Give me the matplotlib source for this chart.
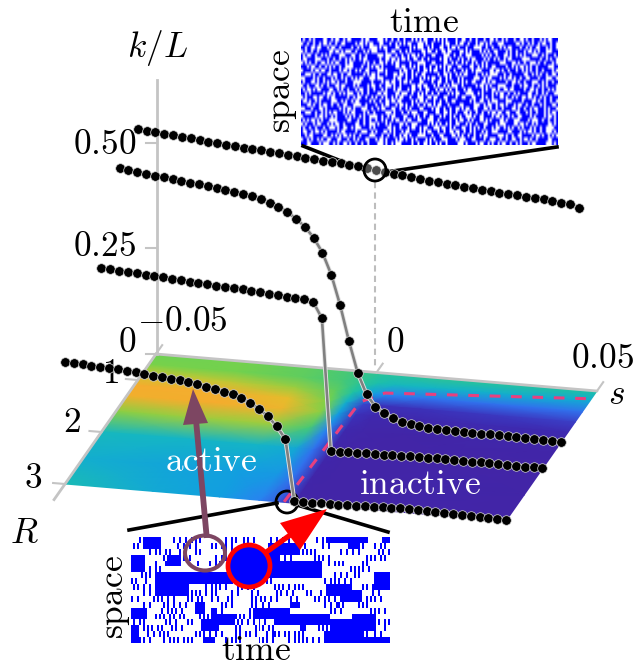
import numpy as np
import matplotlib
matplotlib.use('Agg')
import matplotlib.pyplot as plt
from matplotlib.colors import LinearSegmentedColormap
from matplotlib.patches import Ellipse

plt.rcParams['mathtext.fontset'] = 'cm'

# k/L against s, one list per R (s runs -0.05 .. 0.05 in 51 steps)
k_R1 = [.5930, .5911, .5892, .5872, .5853, .5834, .5815, .5796, .5777, .5757, .5738, .5723, .5706,
        .5690, .5673, .5656, .5640, .5623, .5606, .5589, .5573, .5556, .5539, .5522, .5505, .5488,
        .5460, .5435, .5410, .5385, .5360, .5330, .5303, .5285, .5267, .5250, .5232, .5215, .5198,
        .5180, .5163, .5146, .5130, .5116, .5103, .5088, .5073, .5058, .5032, .5010, .4950]
k_R15 = [.5626, .5597, .5567, .5544, .5519, .5494, .5471, .5442, .5419, .5399, .5376, .5346, .5316,
         .5294, .5264, .5220, .5166, .5103, .5027, .4919, .4778, .4606, .4364, .4026, .3524, .2825,
         .1991, .1252, .0766, .0491, .0352, .0252, .0174, .0145, .0122, .0099, .0086, .0082, .0078,
         .0075, .0071, .0067, .0063, .0060, .0056, .0052, .0048, .0044, .0040, .0036, .0031]
k_R2 = [.3877, .3862, .3848, .3833, .3819, .3804, .3790, .3775, .3761, .3746, .3732, .3717, .3703,
        .3688, .3674, .3660, .3653, .3631, .3618, .3602, .3582, .3559, .3553, .3540, .3500, .3125,
        .0006, .0010, .0014, .0018, .0021, .0024, .0027, .0030, .0033, .0036, .0038, .0041, .0043,
        .0042, .0040, .0038, .0036, .0034, .0032, .0030, .0028, .0026, .0024, .0022, .0020]
k_R3 = [.2891, .2871, .2865, .2842, .2829, .2823, .2817, .2794, .2781, .2758, .2735, .2722, .2699,
        .2679, .2656, .2626, .2580, .2543, .2497, .2453, .2376, .2282, .2158, .2003, .1784, .1494,
        .0046, .0040, .0042, .0047, .0052, .0056, .0060, .0064, .0068, .0072, .0078, .0084, .0088,
        .0085, .0080, .0075, .0068, .0062, .0055, .0048, .0042, .0036, .0030, .0024, .0017]

# colour field on the floor
floor_s = [-.05, -.03, -.015, -.006, -.002, .002, .006, .015, .03, .05]
floor_R = [.5, .7, .9, 1.1, 1.3, 1.6, 2, 2.5, 3]
floor_v = [[.74, .75, .72, .68, .64, .60, .60, .62, .60, .58],
           [.76, .75, .72, .68, .62, .56, .52, .50, .48, .46],
           [.86, .84, .80, .72, .58, .42, .34, .30, .30, .30],
           [.98, .97, .90, .76, .48, .20, .14, .14, .16, .18],
           [.96, .98, .94, .78, .42, .14, .08, .08, .10, .10],
           [.78, .80, .80, .68, .34, .08, .06, .05, .06, .06],
           [.52, .50, .50, .46, .30, .07, .05, .05, .05, .05],
           [.48, .44, .42, .40, .30, .06, .05, .05, .06, .05],
           [.54, .46, .42, .34, .26, .06, .05, .05, .05, .05]]

# phase boundary
edge_s = [-.0004, .0009, .0049, .05]
edge_R = [2.99, 1.06, .86, .65]

k_ticks = [0, .25, .5]
R_ticks = [1, 2, 3]
s_ticks = [-.05, 0, .05]

# raster snapshots, one hex digit = 4 sites
top_raster = ['b5e69a7d3c5b6ea9d57b36ecb5d96ea7', '6da5b3e94e76a9c5bd3a6e95c7e5ad36',
              'd93a6fb5c29e7d46b9a5dc36ea7b59d6', '5b7c946ea3d9b5f26c9e57ab3d6e95c7',
              'a6d5e39b7c46da5b9e36c7d5b96ae35d', '9e3b6d5a7ec94b36fa5d69eb5a7c3ed6',
              '56ca9d3eb65a7dc39e6b5ad7e396c5ba', 'e9b56c3da97e4d5b6a9cf3567da95be3',
              '7a4de96b3c5fa6d94eb75a3c96ed5b7a', 'c5b9367ea5dc96b3f65a9ed43b7e6ad9',
              '3d6eb5a9c47d36ea9b5d7c69ea5b3dc6', 'b96a5dc3ef49a5e7b36d59ca7d96e35b',
              '6e5b93d7a6c5be49d6a37e95c3ba6d5e', 'a53cd6e9b75d3a6ce95ba7d6593ecb6a',
              'd7e96a35bc9e46d5b7a9c35ea6d79b5c', '5c9a7ed36b5a9dc64e7b39d6e5ac96b7',
              '96be35a7d6c93ea5db67f59a3c7de5b6', 'e5a6d9c37b4e96da53be7c69a5d36eb9',
              '3b97ea5c6d39b5e7a6d94ce5b796d3ae', 'c6d53a9eb7c5da39e65b96da4ce75ba9',
              '7e96bd5ac369e75b3ad6c59e96b3d7a5', 'a95c3e76db5a69ce37da6b95e5c7a36d',
              '5d3a9be6c5d7963eab59d6e7a3c96be5', 'b6ec59a3d7e5ba69c4d7356e9ab5d6c3',
              '9a57d3ec6b95d3ea76c9b5d63e7a96c5', 'd3e6a95bc76da5c3b9e56da7c5b3e96a',
              '6b59ced73a5e96bd5c7a39ec6d9a5be7', 'e7a3596dbc5a3ed96b7c5e9ad36ba7c5']
bottom_noise = ['0a000492a00128a40249000492010a000',
                '52a0012480a52090050a41009004a8252',
                '004a5090a0012a00040012a80049200a4',
                '0000a1240025090000a4800a900002a50',
                '00085200412800000000000412a00a000',
                '024a000000000000000000000002a9000',
                '054a800000000000000000000248a0000',
                'a10000000000a4a52a0000004a9200000',
                '5240000004a9052400a92a0000000a500',
                '024a8052a4a02409005240a1200000480',
                '9015240a5090a00a5240900a520002a40',
                '0240a490a005200a2400000049a02a000',
                '00012a4000a40010000000000a4000a90',
                '000a94a02a000a9240000000000000a00',
                '4a00520a0000052490a00000000000094',
                '02a50a4000000a02a5000002a00000a10',
                '0092a000a9240a5209a52a0000000a240',
                '0a40952a00012a00a9012a92000000000']
# solid stretches in the lower raster: row from, row to, site from, site to
bottom_blocks = [(0, 2, 7, 15), (0, 1, 98, 118), (1, 2, 110, 114), (0, 1, 126, 130), (3, 6, 0, 7),
                 (3, 5, 18, 25), (6, 10, 12, 29), (6, 7, 25, 70), (7, 8, 29, 50), (1, 3, 70, 85),
                 (3, 4, 68, 74), (4, 7, 68, 96), (6, 9, 122, 130), (8, 10, 98, 111), (9, 11, 105, 116),
                 (12, 14, 61, 80), (11, 12, 80, 85), (13, 15, 73, 100), (15, 16, 85, 88),
                 (14, 16, 100, 123), (13, 14, 111, 123), (16, 18, 97, 117), (17, 18, 117, 130),
                 (12, 14, 0, 8), (11, 13, 32, 37), (12, 13, 40, 43), (13, 15, 40, 52), (14, 16, 35, 44),
                 (15, 18, 0, 4), (17, 18, 36, 42)]


def project(s, R, k=0):
    s = np.asarray(s, dtype=float)
    R = np.asarray(R, dtype=float)
    k = np.asarray(k, dtype=float)
    x = 156 + 4410 * (s + .05) - 36.4 * (R - .5)
    y = 354 + 370 * (s + .05) + 52 * (R - .5) - 423 * k
    return x, y


def hex_to_bits(rows):
    return np.array([[int(b) for c in row for b in format(int(c, 16), '04b')] for row in rows])


fig = plt.figure(figsize=(6.44, 6.68), dpi=100)
ax = fig.add_axes([0, 0, 1, 1])

white_blue = LinearSegmentedColormap.from_list('wb', ['white', '#0000ff'])
surface = LinearSegmentedColormap.from_list('surf', [
    (0, '#46209f'), (.12, '#3c2cb4'), (.22, '#3a4bd2'), (.32, '#2f7cf5'), (.42, '#129fe0'),
    (.5, '#14b4c8'), (.58, '#1fc2a4'), (.68, '#45c878'), (.76, '#78d24a'), (.88, '#e0c22c'),
    (1, '#f9a82e')])

# floor
S, R = np.meshgrid(floor_s, floor_R)
X, Y = project(S, R)
ax.pcolormesh(X, Y, np.array(floor_v), cmap=surface, vmin=0, vmax=1, shading='gouraud', zorder=1)

# axes frame
grey = '#c4c4c4'
x, y = project([-.05, .05], [.5, .5])
ax.plot(x, y, color=grey, lw=2, zorder=1.5, solid_capstyle='round')
x, y = project([-.05, -.05], [.5, 3.3])
ax.plot(x, y, color=grey, lw=2, zorder=1.5)
ax.plot([157, 157], [354, 80], color=grey, lw=2, zorder=1.5)
for t in k_ticks:
    x, y = project(-.05, .5, t)
    ax.plot([x + 1, x - 10], [y, y], color=grey, lw=1.5, zorder=1.5)
for t in R_ticks:
    x, y = project([-.05, -.0527], t)
    ax.plot(x, y, color=grey, lw=1.5, zorder=1.5)
for t in s_ticks:
    x, y = project([t, t], [.5, .33])
    ax.plot(x, y, color=grey, lw=1.5, zorder=1.5)

# phase boundary
x, y = project(edge_s, edge_R)
ax.plot(x, y, color='#e8407f', lw=2.2, dashes=(3.5, 3.5), zorder=2)

# rasters
ax.imshow(hex_to_bits(top_raster), cmap=white_blue, extent=(301, 558, 145, 38), aspect='auto',
          interpolation='bilinear', zorder=1)
low = hex_to_bits(bottom_noise)[:, :130]
for r0, r1, c0, c1 in bottom_blocks:
    low[r0:r1, c0:c1] = 1
ax.imshow(low, cmap=white_blue, extent=(131, 390, 643, 537), aspect='auto',
          interpolation='nearest', zorder=1)

# guide from the marked point down to the floor
ax.plot([375.5, 375.5], [182, 368], color='#bdbdbd', lw=1.5, dashes=(3, 2), zorder=1.5)

# zoom wedges
for xs, ys in [([303, 364], [146, 170]), ([386, 557], [172, 147]),
               ([129, 277], [530, 503]), ([297, 388], [505, 532])]:
    ax.plot(xs, ys, color='black', lw=2.6, zorder=3)

# curves
s_vals = np.linspace(-.05, .05, 51)
for R_val, k_vals in [(1, k_R1), (1.5, k_R15), (2, k_R2), (3, k_R3)]:
    x, y = project(s_vals, R_val, k_vals)
    ax.plot(x, y, color='#e4e4e4', lw=3.2, zorder=5)
    ax.plot(x, y, color='#808080', lw=1.9, zorder=5)
    ax.plot(x, y, ls='none', marker='o', ms=6.9, mfc='black', mec='#d8d8d8', mew=.5, zorder=5)

# markers on the curves
ax.add_patch(Ellipse((375, 170), 22, 22, fc=(1, 1, 1, .3), ec='black', lw=2, zorder=6))
ax.add_patch(Ellipse((287, 502), 22, 22, fc='none', ec='black', lw=2, zorder=4))

# arrows
brown = '#7d4662'
ax.plot([206.5, 196], [535, 420], color=brown, lw=4.2, zorder=4)
ax.fill([193, 183, 208], [389, 425, 423], color=brown, lw=0, zorder=4)
ax.add_patch(Ellipse((205, 553), 40, 35, fc='none', ec=brown, lw=2.9, zorder=4))
ax.plot([265, 300], [553, 528], color='red', lw=3.8, zorder=4)
ax.fill([327, 280, 300], [509, 523, 550], color='red', lw=0, zorder=4)
ax.add_patch(Ellipse((249, 566), 42, 42, fc='#0000ff', ec='red', lw=3.4, zorder=4))

# text
fs = 25.5
for txt, px, py, ha, col, rot in [
    (r'$k/L$', 158, 48, 'center', 'black', 0),
    (r'$0.50$', 136, 144, 'right', 'black', 0),
    (r'$0.25$', 136, 246, 'right', 'black', 0),
    (r'$0$', 136, 342, 'right', 'black', 0),
    (r'$-0.05$', 228, 321, 'right', 'black', 0),
    (r'$0$', 395, 342, 'center', 'black', 0),
    (r'$0.05$', 603, 358, 'center', 'black', 0),
    (r'$s$', 616, 394, 'center', 'black', 0),
    (r'$1$', 110, 373, 'center', 'black', 0),
    (r'$2$', 72, 422, 'center', 'black', 0),
    (r'$3$', 33, 478, 'center', 'black', 0),
    (r'$R$', 24, 533, 'center', 'black', 0),
    (r'$\mathrm{time}$', 424, 22, 'center', 'black', 0),
    (r'$\mathrm{space}$', 282, 91, 'center', 'black', 90),
    (r'$\mathrm{space}$', 115, 597, 'center', 'black', 90),
    (r'$\mathrm{active}$', 211, 461, 'center', 'white', 0),
    (r'$\mathrm{inactive}$', 420, 484, 'center', 'white', 0),
]:
    ax.text(px, py, txt, fontsize=fs, ha=ha, va='center', color=col, rotation=rot, zorder=4.5)
ax.text(256, 660, r'$\mathrm{time}$', fontsize=fs, ha='center', va='baseline', color='black', zorder=4.5)

ax.set_xlim(0, 644)
ax.set_ylim(668, 0)
ax.axis('off')
fig.savefig('out.png', dpi=100)
